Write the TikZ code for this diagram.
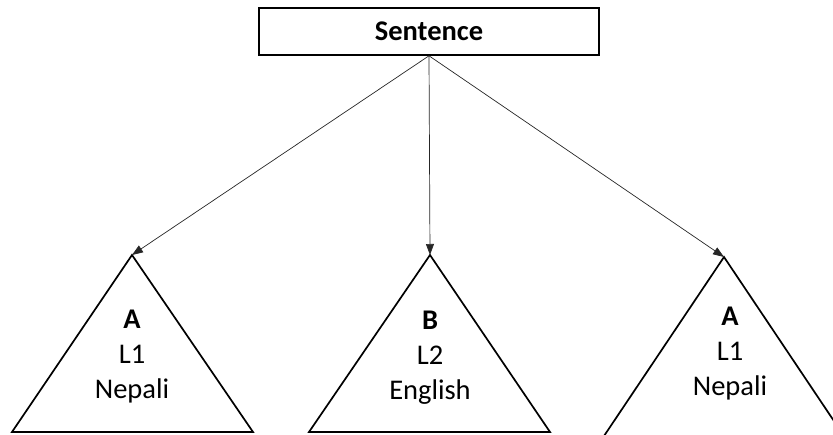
\documentclass[tikz,border=0pt]{standalone}
\usepackage{fontspec}
\setmainfont{Carlito}
\usetikzlibrary{arrows.meta}
\begin{document}
\begin{tikzpicture}[x=1pt,y=-1pt,
  rootbox/.style={draw,line width=1.6pt,minimum width=340pt,minimum height=47pt,inner sep=0pt,font=\fontsize{28.5}{32}\selectfont\bfseries},
  trilabel/.style={align=center,inner sep=0pt,font=\fontsize{28.5}{35}\selectfont},
  tri/.style={line width=1.7pt,line join=miter},
  link/.style={line width=0.7pt,draw=black!85,-{Triangle[length=11pt,width=8pt]}}]
\useasboundingbox (0,0) rectangle (833,435);
\clip (0,0) rectangle (833,435);

% root box
\node[rootbox] (root) at (429,31.5) {Sentence};

% triangle apexes
\coordinate (apexL) at (132,255);
\coordinate (apexM) at (430,255);
\coordinate (apexR) at (724,257);

% triangles
\draw[tri] (apexL) -- (12,432) -- (253,432) -- cycle;
\draw[tri] (apexM) -- (309,432) -- (550,432) -- cycle;
\draw[tri] (apexR) -- (604,436) -- (844,436) -- cycle;

% labels inside the triangles
\node[trilabel] (labL) at (132,357) {\textbf{A}\\L1\\Nepali};
\node[trilabel] (labM) at (430,358) {\textbf{B}\\L2\\English};
\node[trilabel] (labR) at (730,354) {\textbf{A}\\L1\\Nepali};

% connectors
\draw[link] (root.south) -- (apexL);
\draw[link] (root.south) -- (apexM);
\draw[link] (root.south) -- (apexR);
\end{tikzpicture}
\end{document}
